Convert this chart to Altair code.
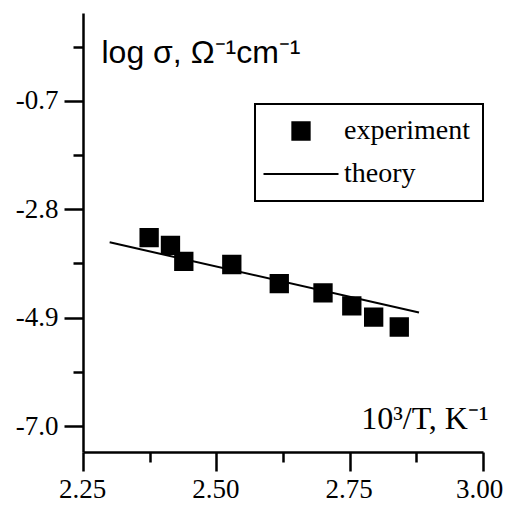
import altair as alt
import pandas as pd

# ---- data ----
exp_x = [2.374, 2.414, 2.439, 2.529, 2.618, 2.700, 2.754, 2.795, 2.843]
exp_y = [-3.35, -3.50, -3.81, -3.87, -4.24, -4.42, -4.67, -4.89, -5.08]
theory_x = [2.30, 2.88]
theory_y = [-3.44, -4.80]
series_names = ["experiment", "theory"]
x_ticks = [2.25, 2.375, 2.5, 2.625, 2.75, 2.875, 3.0]
y_ticks = [0.35, -0.7, -1.75, -2.8, -3.85, -4.9, -5.95, -7.0]

exp_df = pd.DataFrame({"x": exp_x, "y": exp_y, "series": ["experiment"] * len(exp_x)})
th_df = pd.DataFrame({"x": theory_x, "y": theory_y})

xscale = alt.Scale(domain=[2.25, 3.0], nice=False, zero=False)
yscale = alt.Scale(domain=[-7.5, 1.0], nice=False, zero=False)

x_major = "abs(datum.value*4 - round(datum.value*4)) < 0.01"
y_major = "abs((datum.value+0.7)/2.1 - round((datum.value+0.7)/2.1)) < 0.01"

xaxis = alt.Axis(
    values=x_ticks, orient="bottom", labelPadding=5,
    tickSize={"condition": {"test": x_major, "value": 19}, "value": 10},
    labelOffset={"condition": {"test": "datum.value > 2.99", "value": -4}, "value": -1},
    labelExpr=f"{x_major} ? format(datum.value, '.2f') : ''",
    title="10³/T, K⁻¹", titleFont="Liberation Serif", titleFontSize=32,
    titleX=405, titleY=-24, titleAlign="right", titleBaseline="alphabetic", titleAngle=0,
)
yaxis = alt.Axis(
    values=y_ticks, orient="left", labelPadding=6,
    tickSize={"condition": {"test": y_major, "value": 19}, "value": 10},
    labelExpr=f"{y_major} ? replace(format(datum.value, '.1f'), '−', '-') : ''",
    title="log σ, Ω⁻¹cm⁻¹", titleFont="Liberation Sans", titleFontSize=32,
    titleX=18, titleY=49, titleAlign="left", titleBaseline="alphabetic", titleAngle=0,
)

line = alt.Chart(th_df).mark_line(color="black", strokeWidth=2).encode(
    x=alt.X("x:Q", scale=xscale),
    y=alt.Y("y:Q", scale=yscale),
)

points = alt.Chart(exp_df).mark_point(
    filled=False, fill="black", stroke="black", strokeWidth=2, size=300, opacity=1, fillOpacity=1
).encode(
    x=alt.X("x:Q", scale=xscale, axis=xaxis),
    y=alt.Y("y:Q", scale=yscale, axis=yaxis),
    shape=alt.Shape(
        "series:N",
        scale=alt.Scale(domain=series_names, range=["square", "M-4.33,0L4.33,0"]),
        legend=alt.Legend(
            title=None, orient="none", legendX=172, legendY=91, padding=13,
            symbolSize=300, symbolStrokeWidth=2, symbolOffset=19, labelOffset=29,
            labelFont="Liberation Serif", labelFontSize=28, labelColor="black",
            labelLimit=0, rowPadding=15, strokeColor="black",
            labelExpr="datum.label + ' '",
        ),
    ),
)

chart = alt.layer(line, points).properties(
    width=400, height=439,
    autosize=alt.AutoSizeParams(type="none"),
    padding={"left": 75, "top": 5, "right": 22, "bottom": 52},
    background="white",
).configure_view(stroke=None).configure_legend(strokeWidth=2).configure_axis(
    grid=False, domainColor="black", domainWidth=2.5, tickColor="black", tickWidth=2.5,
    labelFont="Liberation Serif", labelFontSize=27, labelColor="black",
    labelFlush=False, labelOverlap=False, labelBound=False,
    titleColor="black", titleFontWeight="normal",
)

chart.save("out.html", embed_options={"renderer": "svg", "actions": False})
